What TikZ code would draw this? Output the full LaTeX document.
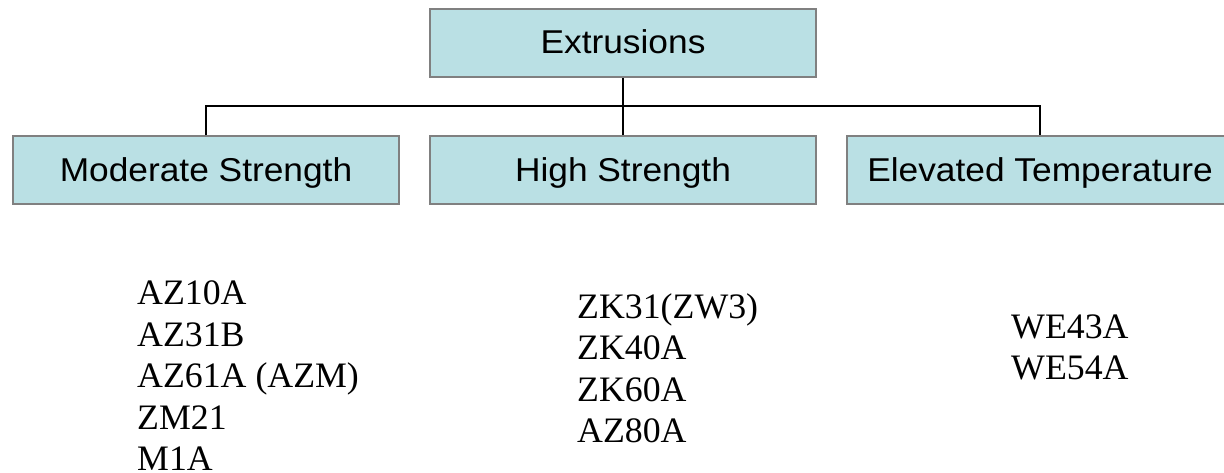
\documentclass[tikz,border=0pt]{standalone}
\usepackage{fontspec}
\setmainfont{Liberation Serif}
\newfontfamily\boxfont[FakeStretch=1.07]{Liberation Sans}
\definecolor{boxfill}{RGB}{186,224,228}
\definecolor{boxline}{RGB}{128,128,128}
\begin{document}
\begin{tikzpicture}[x=1pt,y=-1pt,
  catbox/.style={draw=boxline, line width=2pt, fill=boxfill, minimum width=386pt,
    minimum height=68pt, inner sep=0pt, text height=30pt, text depth=8pt,
    font=\boxfont\fontsize{33}{40}\selectfont},
  conn/.style={draw=black, line width=2pt},
  alloylist/.style={anchor=base west, inner sep=0pt,
    font=\fontsize{35.8}{41.5}\selectfont}
]
\useasboundingbox (0,0) rectangle (1224,473);
\node[catbox] (top) at (623,43) {Extrusions};
\node[catbox] (mod) at (206,170.5) {Moderate Strength};
\node[catbox] (high) at (623,170.5) {High Strength};
\node[catbox] (elev) at (1040,170.5) {Elevated Temperature};
\coordinate (hub) at (623,106.5);
\draw[conn] (top.south) -- (hub);
\draw[conn] (mod.north) |- (hub) -| (elev.north);
\draw[conn] (hub) -- (high.north);
\node[alloylist] (modlist) at (137,305) {\begin{tabular}[t]{@{}l@{}}AZ10A\\AZ31B\\AZ61A (AZM)\\ZM21\\M1A\end{tabular}};
\node[alloylist] (highlist) at (577,318) {\begin{tabular}[t]{@{}l@{}}ZK31(ZW3)\\ZK40A\\ZK60A\\AZ80A\end{tabular}};
\node[alloylist] (elevlist) at (1011,338) {\begin{tabular}[t]{@{}l@{}}WE43A\\WE54A\end{tabular}};
\end{tikzpicture}
\end{document}
